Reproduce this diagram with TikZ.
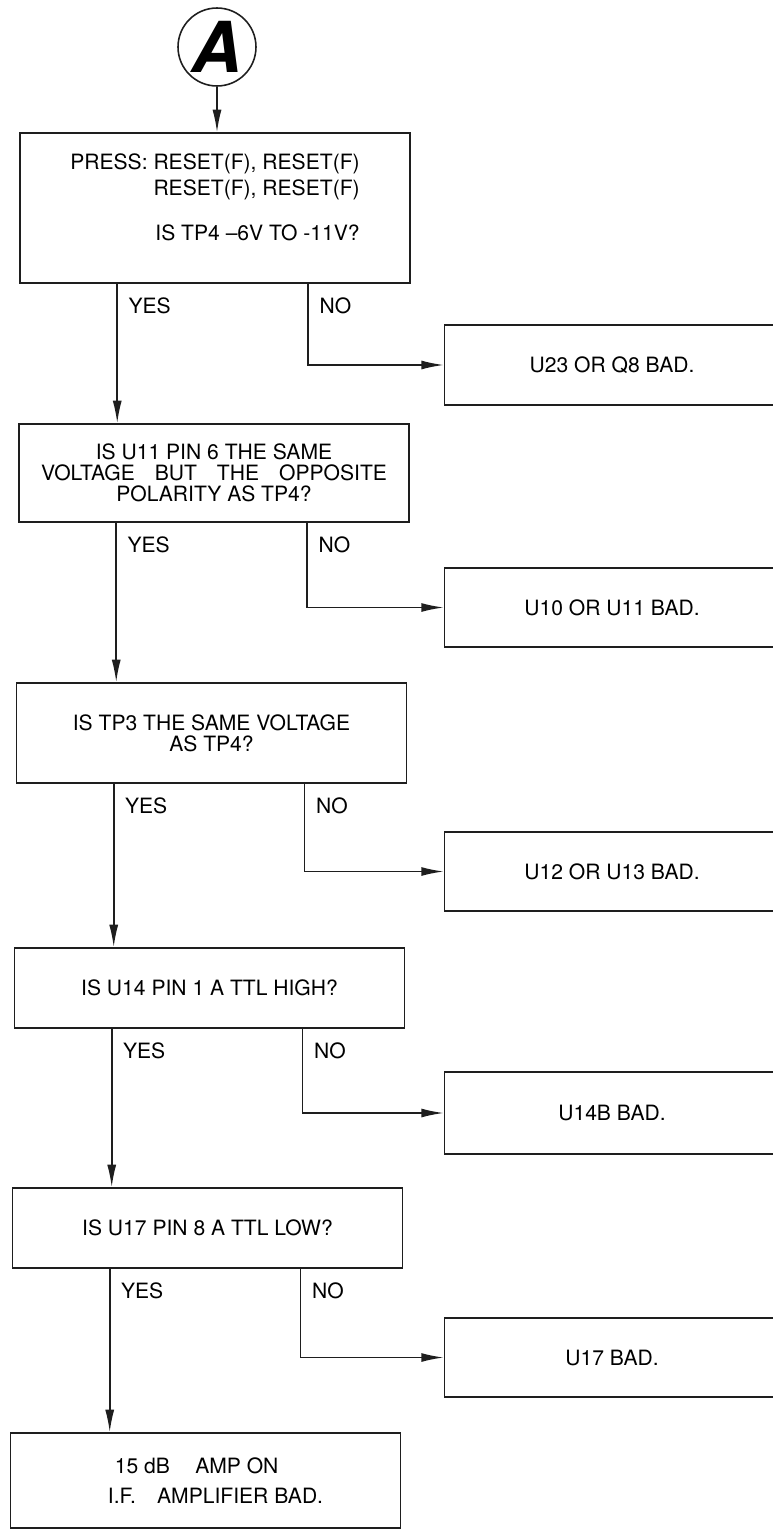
\documentclass[tikz,border=0pt]{standalone}
\usepackage{fontspec}
\setmainfont{TeX Gyre Heros}
\usepackage{tikz}
\usetikzlibrary{arrows.meta, positioning}
\definecolor{ink}{HTML}{1E1E1E}

\begin{document}
\begin{tikzpicture}[
  x=0.02cm, y=-0.02cm,
  qbox/.style={rectangle, draw=ink, line width=0.9pt, minimum width=7.8cm,
    inner sep=0pt, align=center, font=\fontsize{12}{12}\selectfont},
  rbox/.style={rectangle, draw=ink, line width=0.9pt, minimum width=6.7cm,
    minimum height=1.6cm, inner sep=0pt, font=\fontsize{12}{12}\selectfont},
  ans/.style={inner sep=0pt, font=\fontsize{12}{12}\selectfont},
  arr/.style={draw=ink, line width=0.9pt, -{Latex[length=0.45cm, width=0.18cm]}},
  entry/.style={circle, draw=ink, line width=0.9pt, minimum size=1.56cm,
    inner sep=0pt, font=\fontsize{40}{40}\selectfont\bfseries\itshape},
]
  \useasboundingbox (0,0) rectangle (772,1531);

  \node[entry] (a) at (217,47) {A};

  \node[qbox, minimum height=3cm, align=right, text depth=0.42cm] (q1) at (215,208)
    {PRESS: RESET(F), RESET(F)\\[0.1cm] RESET(F), RESET(F)\\[0.48cm] IS TP4 --6V TO -11V?};
  \node[qbox, minimum height=1.96cm] (q2) at (214,473)
    {IS U11 PIN 6 THE SAME\\ \makebox[6.92cm][s]{VOLTAGE BUT THE OPPOSITE}\\ POLARITY AS TP4?};
  \node[qbox, minimum height=2cm] (q3) at (211.5,733) {IS TP3 THE SAME VOLTAGE\\ AS TP4?};
  \node[qbox, minimum height=1.6cm] (q4) at (209.5,988) {IS U14 PIN 1 A TTL HIGH?};
  \node[qbox, minimum height=1.6cm] (q5) at (207.5,1228) {IS U17 PIN 8 A TTL LOW?};
  \node[qbox, minimum height=1.9cm, align=left] (q6) at (205.5,1480.5)
    {\hspace*{0.54cm}15 dB\hspace{1.2em}AMP ON\\[0.18cm] \hspace*{0.4cm}I.F.\hspace{1em}AMPLIFIER BAD.};

  \node[rbox] (r1) at (612,365) {U23 OR Q8 BAD.};
  \node[rbox, minimum height=1.58cm] (r2) at (612,607.5) {U10 OR U11 BAD.};
  \node[rbox, minimum height=1.58cm] (r3) at (612,871.5) {U12 OR U13 BAD.};
  \node[rbox, minimum height=1.64cm] (r4) at (612,1113) {U14B BAD.};
  \node[rbox, minimum height=1.58cm] (r5) at (612,1357.5) {U17 BAD.};

  \draw[arr] (a.south) -- (a.south |- q1.north);

  % question 1
  \coordinate (q1y) at ([xshift=1.96cm]q1.south west);
  \coordinate (q1n) at ([xshift=5.78cm]q1.south west);
  \draw[arr] (q1y) -- (q1y |- q2.north);
  \draw[arr] (q1n) |- (r1.west);
  \node[ans, below right=0.27cm and 0.22cm of q1y] (y1) {YES};
  \node[ans, below right=0.27cm and 0.22cm of q1n] (n1) {NO};

  % question 2
  \coordinate (q2y) at ([xshift=1.96cm]q2.south west);
  \coordinate (q2n) at ([xshift=5.78cm]q2.south west);
  \draw[arr] (q2y) -- (q2y |- q3.north);
  \draw[arr] (q2n) |- (r2.west);
  \node[ans, below right=0.27cm and 0.22cm of q2y] (y2) {YES};
  \node[ans, below right=0.27cm and 0.22cm of q2n] (n2) {NO};

  % question 3
  \coordinate (q3y) at ([xshift=1.96cm]q3.south west);
  \coordinate (q3n) at ([xshift=5.78cm]q3.south west);
  \draw[arr] (q3y) -- (q3y |- q4.north);
  \draw[arr] (q3n) |- (r3.west);
  \node[ans, below right=0.27cm and 0.22cm of q3y] (y3) {YES};
  \node[ans, below right=0.27cm and 0.22cm of q3n] (n3) {NO};

  % question 4
  \coordinate (q4y) at ([xshift=1.96cm]q4.south west);
  \coordinate (q4n) at ([xshift=5.78cm]q4.south west);
  \draw[arr] (q4y) -- (q4y |- q5.north);
  \draw[arr] (q4n) |- (r4.west);
  \node[ans, below right=0.27cm and 0.22cm of q4y] (y4) {YES};
  \node[ans, below right=0.27cm and 0.22cm of q4n] (n4) {NO};

  % question 5
  \coordinate (q5y) at ([xshift=1.96cm]q5.south west);
  \coordinate (q5n) at ([xshift=5.78cm]q5.south west);
  \draw[arr] (q5y) -- (q5y |- q6.north);
  \draw[arr] (q5n) |- (r5.west);
  \node[ans, below right=0.27cm and 0.22cm of q5y] (y5) {YES};
  \node[ans, below right=0.27cm and 0.22cm of q5n] (n5) {NO};
\end{tikzpicture}
\end{document}
